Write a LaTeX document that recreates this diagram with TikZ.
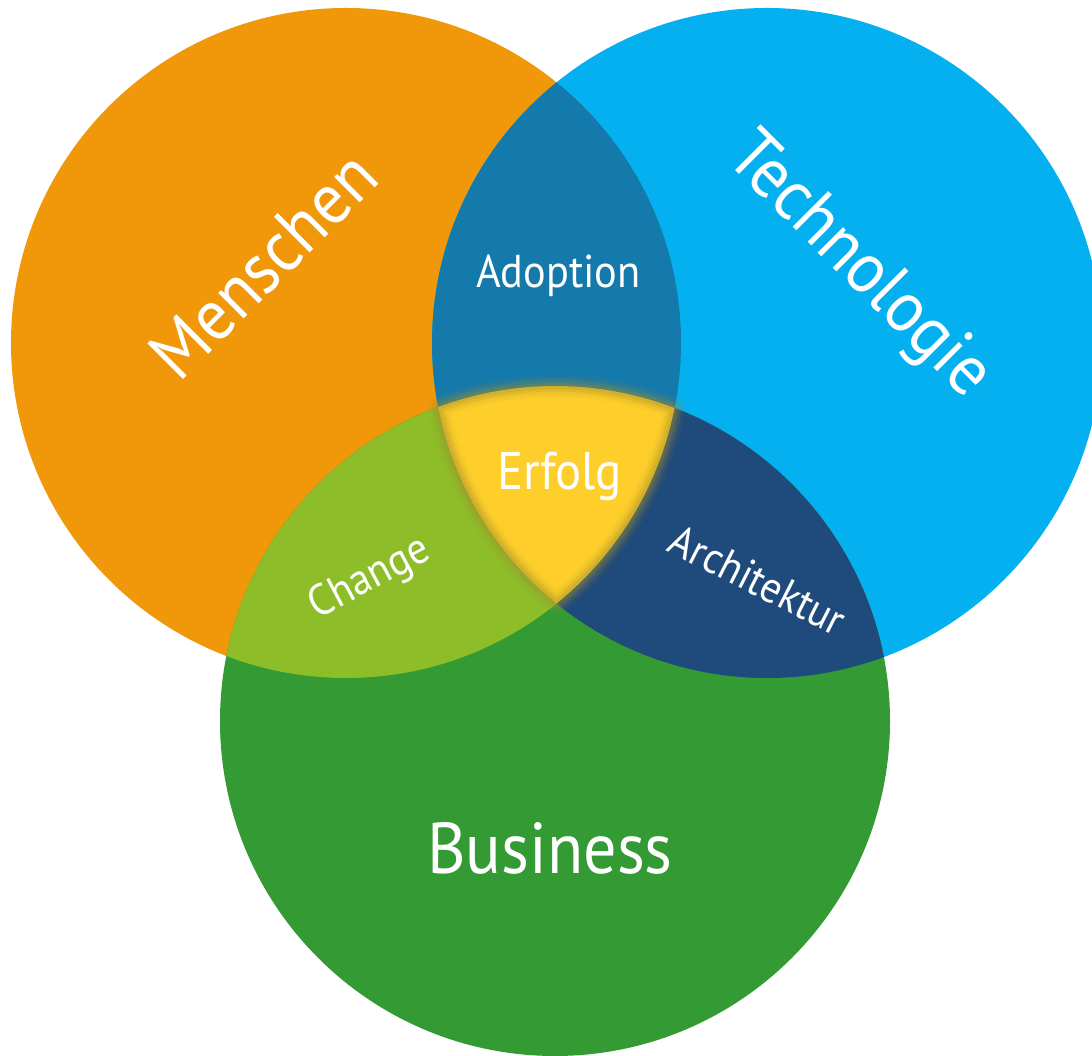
\documentclass[tikz,border=0pt]{standalone}
\usepackage{fontspec}
\usetikzlibrary{calc}
\setmainfont{PT Sans}[FakeStretch=0.92]
\definecolor{cOrange}{HTML}{F0980A}
\definecolor{cBlue}{HTML}{04B0F0}
\definecolor{cGreen}{HTML}{349A34}
\definecolor{cOB}{HTML}{1479AB}
\definecolor{cOG}{HTML}{8DBE29}
\definecolor{cBG}{HTML}{1F4A7C}
\definecolor{cYellow}{HTML}{FECE2A}
\definecolor{cGlow}{RGB}{165,145,45}
\tikzset{
  lbl/.style={text=white, inner sep=0pt, anchor=center},
  glowline/.style={draw=cGlow, line join=round, line cap=round},
}
\begin{document}
\begin{tikzpicture}[x=1pt,y=1pt]
\useasboundingbox (0,0) rectangle (1092,1056);
\fill[white] (0,0) rectangle (1092,1056);
\coordinate (O) at (346,713);
\coordinate (B) at (767,713);
\coordinate (G) at (555,335);
\def\rr{335pt}
% circles
\fill[cOrange] (O) circle[radius=\rr];
\fill[cBlue] (B) circle[radius=\rr];
\fill[cGreen] (G) circle[radius=\rr];
% pairwise overlaps
\begin{scope}
  \clip (O) circle[radius=\rr];
  \fill[cOB] (B) circle[radius=\rr];
  \fill[cOG] (G) circle[radius=\rr];
\end{scope}
\begin{scope}
  \clip (B) circle[radius=\rr];
  \fill[cBG] (G) circle[radius=\rr];
\end{scope}
% centre region
\coordinate (P1) at ($(G)+(110.4:335)$);
\def\triple{(P1) arc[start angle=110.4, end angle=69.1, radius=\rr]
  arc[start angle=-11.2, end angle=-51.07, radius=\rr]
  arc[start angle=231.07, end angle=191.0, radius=\rr] -- cycle}
\fill[cYellow] \triple;
\path[glowline, line width=22pt, draw opacity=0.08] \triple;
\path[glowline, line width=16pt, draw opacity=0.12] \triple;
\path[glowline, line width=11pt, draw opacity=0.17] \triple;
\path[glowline, line width=6pt, draw opacity=0.22] \triple;
% labels
\node[lbl, rotate=45, font=\fontsize{72}{80}\selectfont] (menschen) at (263,791) {Menschen};
\node[lbl, rotate=-45, font=\fontsize{72}{80}\selectfont] (technologie) at (858,789) {Technologie};
\node[lbl, font=\fontsize{72}{80}\selectfont] (business) at (550,208) {Business};
\node[lbl, font=\fontsize{46}{52}\selectfont] (adoption) at (558.5,780) {Adoption};
\node[lbl, font=\fontsize{53}{60}\selectfont] (erfolg) at (559.5,580) {Erfolg};
\node[lbl, rotate=28, font=\fontsize{44}{50}\selectfont] (change) at (370,477) {Change};
\node[lbl, rotate=-27, font=\fontsize{44}{50}\selectfont] (architektur) at (758,476) {Architektur};
\end{tikzpicture}
\end{document}
